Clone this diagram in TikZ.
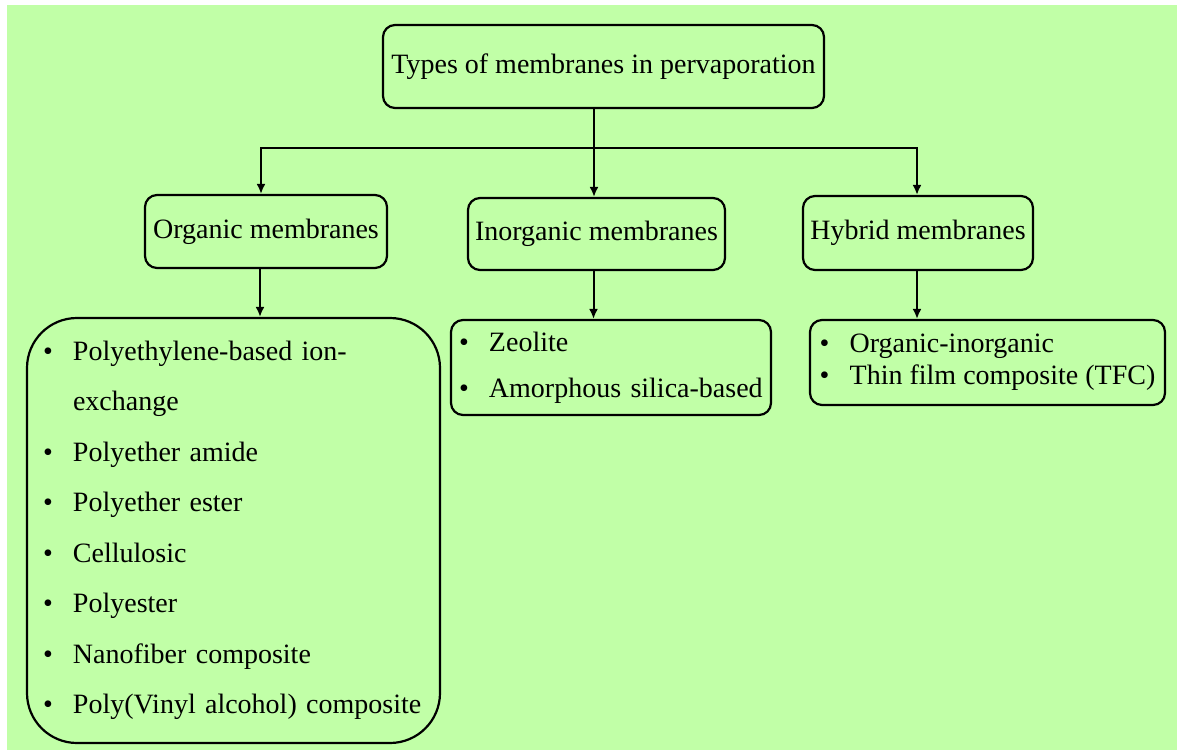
\documentclass[tikz,border=0pt]{standalone}
\usepackage{fontspec}
\setmainfont{Liberation Serif}
\usetikzlibrary{arrows.meta, positioning}
\definecolor{bgcolor}{RGB}{193, 255, 167}
\newcommand{\bitem}[1]{\makebox[30pt][l]{\textbullet}#1}

\begin{document}
\begin{tikzpicture}[x=1pt, y=-1pt,
    category/.style={draw, line width=2.2pt, rounded corners=12pt, font=\fontsize{28}{32}\selectfont, inner sep=0pt},
    itembox/.style={draw, line width=2.2pt, rounded corners=12pt, align=left, inner ysep=0pt},
    arrow/.style={-{Latex[length=10pt, width=9pt]}, line width=2pt},
    connector/.style={line width=2pt}
]

% Background
\fill[bgcolor] (7,5) rectangle (1177,750);
\useasboundingbox (0,0) rectangle (1177,751);

% Main node
\node[category, minimum width=441pt, minimum height=83pt] (root) at (603.5, 66.5) {Types of membranes in pervaporation};

% Membrane categories
\node[category, minimum width=242pt, minimum height=73pt] (organic) at (266, 231.5) {Organic membranes};
\node[category, minimum width=257pt, minimum height=72pt] (inorganic) at (596.5, 234) {Inorganic membranes};
\node[category, minimum width=230pt, minimum height=74pt] (hybrid) at (918, 233) {Hybrid membranes};

% Member lists
\node[itembox, rounded corners=50pt, inner xsep=16pt, text width=381pt, minimum height=425pt,
      font=\fontsize{28}{50.5}\selectfont] (organiclist) at (233.5, 530.5)
  {\bitem{Polyethylene-based ion-}\\
   \hspace*{30pt}exchange\\
   \bitem{Polyether amide}\\
   \bitem{Polyether ester}\\
   \bitem{Cellulosic}\\
   \bitem{Polyester}\\
   \bitem{Nanofiber composite}\\
   \bitem{Poly(Vinyl alcohol) composite}};
\node[itembox, inner xsep=8pt, text width=304pt, minimum height=95pt,
      font=\fontsize{28}{46}\selectfont] (inorganiclist) at (611, 367.5)
  {\bitem{Zeolite}\\
   \bitem{Amorphous silica-based}};
\node[itembox, inner xsep=4pt, minimum width=355pt, minimum height=85pt,
      font=\fontsize{28}{32}\selectfont] (hybridlist) at (987.5, 362.5)
  {\bitem{Organic-inorganic}\\
   \bitem{Thin film composite (TFC)}};

% Connectors
\coordinate (split) at (594, 148);
\draw[connector] (split |- root.south) -- (split);
\draw[arrow] (split) -| ([xshift=-5pt]organic.north);
\draw[arrow] (split) -- (split |- inorganic.north);
\draw[arrow] (split) -| ([xshift=-1pt]hybrid.north);

\draw[arrow] ([xshift=-6pt]organic.south) -- ([xshift=-6pt]organic.south |- organiclist.north);
\draw[arrow] ([xshift=-3pt]inorganic.south) -- ([xshift=-3pt]inorganic.south |- inorganiclist.north);
\draw[arrow] ([xshift=-1pt]hybrid.south) -- ([xshift=-1pt]hybrid.south |- hybridlist.north);

\end{tikzpicture}
\end{document}
